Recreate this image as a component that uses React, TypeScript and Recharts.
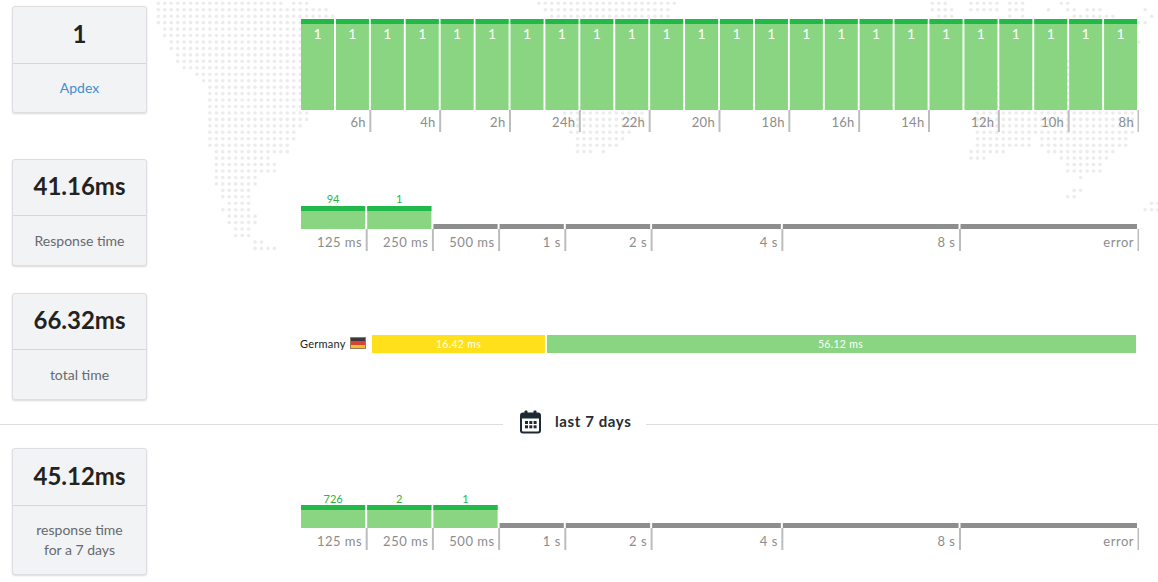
import { Bar, BarChart, LabelList, XAxis, YAxis } from "recharts";

const FONT = "Lato, sans-serif";
const GREEN = "#22b84a";
const LIGHT_GREEN = "#89d582";
const GREY = "#8e8e8e";
const TICK_LINE = "#bdbdbd";
const TICK_TEXT = "#8c8c8c";

// apdex per hour, newest on the left
const hours = ["7h", "6h", "5h", "4h", "3h", "2h", "1h", "24h", "23h", "22h", "21h", "20h", "19h", "18h", "17h", "16h", "15h", "14h", "13h", "12h", "11h", "10h", "9h", "8h"];
const apdexValues = [1, 1, 1, 1, 1, 1, 1, 1, 1, 1, 1, 1, 1, 1, 1, 1, 1, 1, 1, 1, 1, 1, 1, 1];
const labelledHours = ["6h", "4h", "2h", "24h", "22h", "20h", "18h", "16h", "14h", "12h", "10h", "8h"];

// response time histogram, shares are % of the row
const buckets = ["125 ms", "250 ms", "500 ms", "1 s", "2 s", "4 s", "8 s", "error"];
const bucketShares = [7.9, 7.9, 7.9, 7.9, 10.3, 15.6, 21.2, 21.3];
const countsToday = [94, 1, 0, 0, 0, 0, 0, 0];
const counts7Days = [726, 2, 1, 0, 0, 0, 0, 0];

// total time
const country = "Germany";
const firstPart = 16.42;
const secondPart = 56.12;

const cards = [
  { value: "1", label: ["Apdex"], top: 6, height: 105, head: 57, pad: 14, color: "#3f8fd2" },
  { value: "41.16ms", label: ["Response time"], top: 159, height: 105, head: 56, pad: 15, color: "#666a6e" },
  { value: "66.32ms", label: ["total time"], top: 293, height: 105, head: 56, pad: 15, color: "#666a6e" },
  { value: "45.12ms", label: ["response time", "for a 7 days"], top: 448, height: 125, head: 57, pad: 14, color: "#666a6e" },
];

// background map, per row: [first dot, last dot] runs
const mapRows: number[][][] = [
  [[0, 19], [21, 23], [59, 80], [120, 122], [126, 130], [132, 134], [140, 141]],
  [[0, 26], [60, 79], [120, 123], [126, 130], [132, 134], [138, 138], [141, 142], [144, 146], [153, 153]],
  [[0, 27], [61, 79], [121, 123], [132, 132], [134, 134], [142, 148], [154, 154]],
  [[0, 23], [152, 153]],
  [[1, 23]],
  [[1, 23]],
  [[2, 23], [152, 152]],
  [[2, 23]],
  [[3, 23]],
  [[3, 23], [140, 151]],
  [[4, 23], [140, 151]],
  [[6, 23], [140, 151]],
  [[7, 23], [127, 151]],
  [[8, 23], [127, 151]],
  [[8, 23], [127, 151]],
  [[8, 23], [127, 151]],
  [[8, 23], [127, 151]],
  [[8, 23], [63, 75], [127, 151]],
  [[8, 23], [63, 75], [127, 151]],
  [[8, 22], [64, 73], [127, 151]],
  [[8, 21], [64, 73], [127, 151]],
  [[8, 21], [65, 72], [127, 135], [137, 150]],
  [[8, 20], [65, 71], [127, 135], [137, 150]],
  [[9, 20], [65, 67], [69, 69], [126, 131], [138, 148]],
  [[9, 17], [126, 128], [140, 147]],
  [[9, 18], [141, 146]],
  [[9, 18], [141, 146]],
  [[9, 15], [143, 143]],
  [[9, 15]],
  [[10, 14], [142, 143]],
  [[10, 14], [141, 142]],
  [[11, 14], [154, 155]],
  [[10, 14], [153, 155]],
  [[11, 15]],
  [[11, 15]],
  [[12, 14]],
  [[12, 14]],
  [[15, 16]],
  [[15, 18]],
];

const chartWidth = 838;
const hourStep = chartWidth / hours.length;
const apdexData = hours.map((hour, i) => ({ hour, apdex: apdexValues[i] }));

function DotMap() {
  const dots: React.ReactNode[] = [];
  mapRows.forEach((runs, r) =>
    runs.forEach(([from, to]) => {
      for (let c = from; c <= to; c++) {
        dots.push(<circle key={`${r}-${c}`} cx={158.3 + c * 6.45} cy={3.3 + r * 6.45} r={1.8} fill="#ececec" />);
      }
    })
  );
  return (
    <svg width={1158} height={260} style={{ position: "absolute", left: 0, top: 0 }}>
      {dots}
    </svg>
  );
}

function StatCard({ value, label, top, height, head, pad, color }: any) {
  return (
    <div
      style={{
        position: "absolute",
        left: 12,
        top,
        width: 133,
        height,
        background: "#f2f3f5",
        border: "1px solid #dcdee1",
        borderRadius: 3,
        boxShadow: "0 1px 2px rgba(0,0,0,0.15)",
        textAlign: "center",
      }}
    >
      <div
        style={{
          height: head - 1,
          lineHeight: `${head - 4}px`,
          borderBottom: "1px solid #d5d7da",
          fontSize: 24,
          fontWeight: 700,
          color: "#222",
        }}
      >
        {value}
      </div>
      <div style={{ paddingTop: pad, fontSize: 14, lineHeight: "20px", color }}>
        {label.map((line: string) => (
          <div key={line}>{line}</div>
        ))}
      </div>
    </div>
  );
}

function HourBar({ x, y, width, height }: any) {
  return (
    <g>
      <rect x={x} y={y} width={width - 2} height={height} fill={LIGHT_GREEN} />
      <rect x={x} y={y} width={width - 2} height={5} fill={GREEN} />
    </g>
  );
}

function HourTick({ x, y, payload }: any) {
  if (!labelledHours.includes(payload.value)) return null;
  const edge = x + hourStep / 2;
  return (
    <g>
      <rect x={edge - 1.5} y={y} width={2} height={22} fill={TICK_LINE} />
      <text x={edge - 5} y={y + 17} textAnchor="end" fontSize={13} fill={TICK_TEXT} style={{ letterSpacing: 0.3 }}>
        {payload.value}
      </text>
    </g>
  );
}

function ApdexChart() {
  return (
    <div style={{ position: "absolute", left: 301, top: 19 }}>
      <BarChart width={chartWidth} height={113} data={apdexData} margin={{ top: 0, right: 0, bottom: 0, left: 0 }} barCategoryGap={0}>
        <XAxis dataKey="hour" height={22} interval={0} axisLine={false} tickLine={false} tickSize={0} tickMargin={0} tick={<HourTick />} />
        <YAxis hide domain={[0, 1]} />
        <Bar dataKey="apdex" shape={<HourBar />} isAnimationActive={false}>
          <LabelList dataKey="apdex" position="insideTop" offset={10} dx={-1} fill="#fff" fontSize={14} />
        </Bar>
      </BarChart>
    </div>
  );
}

function bucketEnds() {
  let sum = 0;
  return bucketShares.map((s) => {
    sum += s;
    return Math.round(sum * 10) / 10;
  });
}

function Histogram({ top, counts, lift }: { top: number; counts: number[]; lift: number }) {
  const ends = bucketEnds();
  const row: Record<string, number | string> = { name: "rt" };
  buckets.forEach((b, i) => (row[b] = bucketShares[i]));

  const BucketTick = ({ x, y, payload }: any) => (
    <g>
      <rect x={x - 1.5} y={y} width={2} height={22} fill={TICK_LINE} />
      <text x={x - 5} y={y + 18} textAnchor="end" fontSize={13} fill={TICK_TEXT} style={{ letterSpacing: 0.5 }}>
        {buckets[ends.indexOf(payload.value)]}
      </text>
    </g>
  );

  const bucketShape = (i: number) => ({ x, y, width, height }: any) => {
    const w = width - 2;
    if (!counts[i]) return <rect x={x} y={y + height - 5} width={w} height={5} fill={GREY} />;
    return (
      <g>
        <rect x={x} y={y} width={w} height={height} fill={LIGHT_GREEN} />
        <rect x={x} y={y} width={w} height={5} fill={GREEN} />
        <text x={x + w / 2} y={y - lift} textAnchor="middle" fontSize={11} fill={GREEN}>
          {counts[i]}
        </text>
      </g>
    );
  };

  return (
    <div style={{ position: "absolute", left: 301, top }}>
      <BarChart width={chartWidth} height={61} layout="vertical" data={[row]} margin={{ top: 16, right: 0, bottom: 0, left: 0 }} barCategoryGap={0}>
        <XAxis type="number" domain={[0, 100]} ticks={ends} interval={0} height={22} axisLine={false} tickLine={false} tickSize={0} tickMargin={0} tick={<BucketTick />} />
        <YAxis type="category" dataKey="name" hide />
        {buckets.map((b, i) => (
          <Bar key={b} dataKey={b} stackId="rt" shape={bucketShape(i)} isAnimationActive={false} />
        ))}
      </BarChart>
    </div>
  );
}

function CountryTick({ x, y, payload }: any) {
  const left = x - 71;
  return (
    <g>
      <text x={left - 1} y={y + 4} fontSize={11} fill="#1b1b1b" style={{ letterSpacing: 0.25 }}>
        {payload.value}
      </text>
      <rect x={left + 49} y={y - 7} width={16} height={4} fill="#3a3a3a" />
      <rect x={left + 49} y={y - 3} width={16} height={4} fill="#d8423a" />
      <rect x={left + 49} y={y + 1} width={16} height={4} fill="#f0c02c" />
      <rect x={left + 49.5} y={y - 6.5} width={15} height={11} fill="none" stroke="#9a7a50" strokeWidth={1} />
    </g>
  );
}

function SecondPartBar({ x, y, width, height }: any) {
  return <rect x={x + 2} y={y} width={width - 2} height={height} fill={LIGHT_GREEN} />;
}

function TotalTimeChart() {
  const data = [{ name: country, first: firstPart, second: secondPart }];
  const ms = (v: any) => `${v} ms`;
  const labelStyle = { letterSpacing: 0.3 };
  return (
    <div style={{ position: "absolute", left: 298, top: 335 }}>
      <BarChart width={838} height={18} layout="vertical" data={data} margin={{ top: 0, right: 0, bottom: 0, left: 0 }} barCategoryGap={0}>
        <XAxis type="number" hide domain={[0, firstPart + secondPart]} />
        <YAxis type="category" dataKey="name" width={74} axisLine={false} tickLine={false} tickSize={0} tickMargin={0} tick={<CountryTick />} />
        <Bar dataKey="first" stackId="t" fill="#ffe01b" isAnimationActive={false}>
          <LabelList dataKey="first" position="center" formatter={ms} fill="#fff" fontSize={10.5} style={labelStyle} />
        </Bar>
        <Bar dataKey="second" stackId="t" shape={<SecondPartBar />} isAnimationActive={false}>
          <LabelList dataKey="second" position="center" formatter={ms} fill="#fff" fontSize={10.5} style={labelStyle} />
        </Bar>
      </BarChart>
    </div>
  );
}

function CalendarIcon() {
  const cells = [0, 1, 2, 3, 4, 5];
  return (
    <svg width={22} height={24} style={{ position: "absolute", left: 520, top: 409.5 }}>
      <rect x={1} y={3.5} width={19} height={19} rx={2} fill="#fff" stroke="#1d2a36" strokeWidth={2} />
      <rect x={1} y={3.5} width={19} height={5} fill="#1d2a36" />
      <rect x={4.5} y={0.5} width={3} height={5} rx={1} fill="#1d2a36" />
      <rect x={13.5} y={0.5} width={3} height={5} rx={1} fill="#1d2a36" />
      {cells.map((c) => (
        <rect key={c} x={5 + (c % 3) * 4.3} y={11 + Math.floor(c / 3) * 4.3} width={3} height={3} fill="#1d2a36" />
      ))}
    </svg>
  );
}

export default function App() {
  return (
    <div style={{ position: "absolute", left: 0, top: 0, width: 1158, height: 582, overflow: "hidden", background: "#fff", fontFamily: FONT }}>
      <DotMap />
      {cards.map((c) => (
        <StatCard key={c.value} {...c} />
      ))}
      <ApdexChart />
      <Histogram top={190} counts={countsToday} lift={3} />
      <TotalTimeChart />
      <div style={{ position: "absolute", left: 0, top: 424, width: 503, height: 1, background: "#dedede" }} />
      <div style={{ position: "absolute", left: 646, top: 424, width: 512, height: 1, background: "#dedede" }} />
      <CalendarIcon />
      <div style={{ position: "absolute", left: 555, top: 411, fontSize: 15, lineHeight: "20px", fontWeight: 700, color: "#262c33", letterSpacing: 0.6 }}>last 7 days</div>
      <Histogram top={489} counts={counts7Days} lift={2} />
    </div>
  );
}
